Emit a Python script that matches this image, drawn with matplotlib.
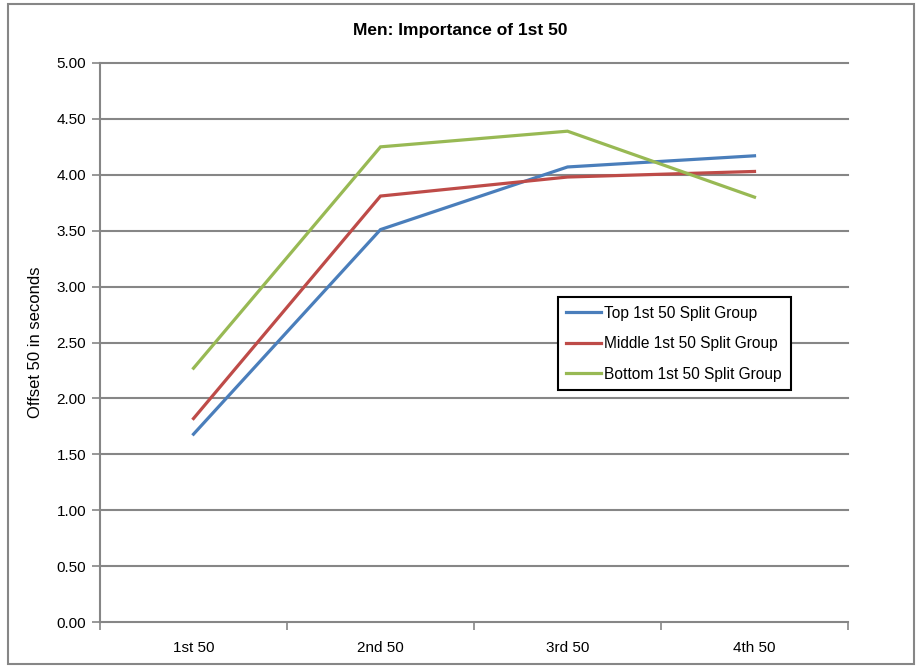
import matplotlib
matplotlib.use('Agg')
import matplotlib.pyplot as plt
from matplotlib.patches import Rectangle

plt.rcParams['font.family'] = ['Liberation Sans', 'DejaVu Sans']

categories = ['1st 50', '2nd 50', '3rd 50', '4th 50']
top_vals = [1.68, 3.51, 4.07, 4.17]
middle_vals = [1.82, 3.81, 3.98, 4.03]
bottom_vals = [2.27, 4.25, 4.39, 3.80]
series_names = ['Top 1st 50 Split Group', 'Middle 1st 50 Split Group', 'Bottom 1st 50 Split Group']
colors = ['#4A7EBB', '#BE4B48', '#98B954']
yticks = [0, 0.5, 1, 1.5, 2, 2.5, 3, 3.5, 4, 4.5, 5]

W, H = 920, 671
fig = plt.figure(figsize=(W / 100, H / 100), dpi=100)
ax = fig.add_axes([100 / W, 1 - 622 / H, 748 / W, 559 / H])

x = list(range(len(categories)))
for vals, name, c in zip([top_vals, middle_vals, bottom_vals], series_names, colors):
    ax.plot(x, vals, color=c, linewidth=2.3, label=name, solid_joinstyle='miter')

grid_c = '#868686'
ax.set_ylim(0, 5)
ax.set_xlim(-0.5, 3.5)
ax.set_yticks(yticks)
ax.set_yticklabels(['%.2f' % v for v in yticks])
for v in yticks[1:]:
    ax.axhline(v, color=grid_c, linewidth=1.5, zorder=0, clip_on=False)

# category labels centred, tick marks at the boundaries
ax.set_xticks(x)
ax.set_xticklabels(categories)
ax.set_xticks([-0.5, 0.5, 1.5, 2.5, 3.5], minor=True)
ax.tick_params(axis='x', which='major', length=0, pad=14, labelsize=11)
ax.tick_params(axis='x', which='minor', length=6, width=1.2, color=grid_c, direction='out')
ax.tick_params(axis='y', length=6, width=1.2, color=grid_c, direction='out', pad=4, labelsize=11)

for s in ['top', 'right']:
    ax.spines[s].set_visible(False)
for s in ['left', 'bottom']:
    ax.spines[s].set_color(grid_c)
    ax.spines[s].set_linewidth(1.5)

ax.set_ylabel('Offset 50 in seconds', fontsize=12, labelpad=10)
fig.text(460 / W, 1 - 30 / H, 'Men: Importance of 1st 50', ha='center', va='center',
         fontsize=12.5, fontweight='bold')

leg = ax.legend(loc='upper left', bbox_to_anchor=(0.612, 0.581), fontsize=11.2,
                fancybox=False, framealpha=1, edgecolor='black', handlelength=2.2,
                handletextpad=0.25, borderpad=0.55, labelspacing=1.0, borderaxespad=0)
leg.get_frame().set_linewidth(1.5)

fig.patches.append(Rectangle((8 / W, 1 - 664 / H), 906 / W, 660 / H, transform=fig.transFigure,
                             fill=False, edgecolor='#868686', linewidth=1.5))

fig.savefig('out.png', dpi=100)
